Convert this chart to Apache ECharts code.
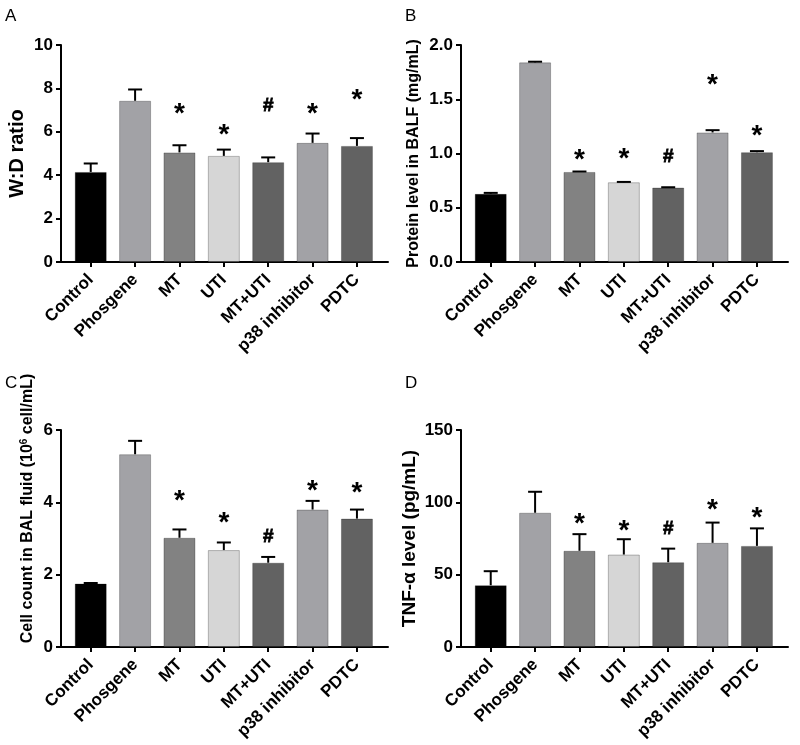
<!DOCTYPE html>
<html>
<head>
<meta charset="utf-8">
<script src="https://cdn.jsdelivr.net/npm/echarts@6/dist/echarts.min.js"></script>
<style>
html,body{margin:0;padding:0;background:#fff;}
#chart{width:800px;height:745px;}
</style>
</head>
<body>
<div id="chart"></div>
<script>
// ---- data ----
const categories = ['Control', 'Phosgene', 'MT', 'UTI', 'MT+UTI', 'p38 inhibitor', 'PDTC'];
const barColors = ['#000000', '#a2a2a6', '#828282', '#d6d6d6', '#626262', '#a2a2a6', '#626262'];
const marks = ['', '', '*', '*', '#', '*', '*'];

// Panel A: W:D ratio
const wdMean = [4.15, 7.43, 5.05, 4.89, 4.60, 5.49, 5.35];
const wdErr = [0.39, 0.52, 0.33, 0.29, 0.22, 0.43, 0.36];
const wdMarkY = [null, null, 7.12, 6.15, 7.18, 7.12, 7.77];
const wdTicks = [0, 2, 4, 6, 8, 10];

// Panel B: Protein level in BALF (mg/mL)
const protMean = [0.628, 1.840, 0.830, 0.735, 0.686, 1.194, 1.012];
const protErr = [0.009, 0.006, 0.004, 0.003, 0.003, 0.021, 0.010];
const protMarkY = [null, null, 1.00, 1.01, 0.97, 1.69, 1.22];
const protTicks = ['0.0', '0.5', '1.0', '1.5', '2.0'];

// Panel C: Cell count in BAL fluid (10^6 cell/mL)
const cellMean = [1.754, 5.33, 3.02, 2.68, 2.33, 3.80, 3.55];
const cellErr = [0.016, 0.37, 0.23, 0.21, 0.16, 0.24, 0.25];
const cellMarkY = [null, null, 4.23, 3.62, 3.05, 4.50, 4.45];
const cellTicks = [0, 2, 4, 6];

// Panel D: TNF-alpha level (pg/mL)
const tnfMean = [42.7, 92.8, 66.5, 63.9, 58.6, 72.0, 69.9];
const tnfErr = [9.7, 14.5, 11.5, 10.6, 9.4, 14.0, 12.1];
const tnfMarkY = [null, null, 90, 85, 82, 99, 93.5];
const tnfTicks = [0, 50, 100, 150];

// ---- chart ----
const FONT = 'Liberation Sans, Arial, sans-serif';
const panels = [
  {letter: 'A', mean: wdMean, err: wdErr, markY: wdMarkY, ticks: wdTicks, interval: 2, dec: 0,
   name: 'W:D ratio', nameSize: 20, nameGap: 34, left: 61, top: 45, lx: 0, ly: 3, namePad: 0},
  {letter: 'B', mean: protMean, err: protErr, markY: protMarkY, ticks: protTicks, interval: 0.5, dec: 1,
   name: 'Protein level in BALF (mg/mL)', nameSize: 16, nameGap: 39, left: 461, top: 45, lx: 400, ly: 3, namePad: 0},
  {letter: 'C', mean: cellMean, err: cellErr, markY: cellMarkY, ticks: cellTicks, interval: 2, dec: 0,
   name: '{a|Cell count in BAL fluid (10}{b|6}{a| cell/mL)}', nameSize: 16, nameGap: 24, left: 61, top: 430, lx: 0, ly: 370, namePad: 60},
  {letter: 'D', mean: tnfMean, err: tnfErr, markY: tnfMarkY, ticks: tnfTicks, interval: 50, dec: 0,
   name: 'TNF-α level (pg/mL)', nameSize: 19, nameGap: 42, left: 461, top: 430, lx: 400, ly: 370, namePad: 0}
];

const option = {
  backgroundColor: '#fff',
  animation: false,
  textStyle: {fontFamily: FONT},
  title: [], grid: [], xAxis: [], yAxis: [], series: []
};

panels.forEach((p, k) => {
  const tickNums = p.ticks.map(Number);
  option.title.push({
    text: p.letter,
    left: p.lx, top: p.ly,
    textStyle: {fontSize: 17, fontWeight: 'normal', color: '#000', fontFamily: FONT}
  });
  option.grid.push({left: p.left, top: p.top, width: 327, height: 217, containLabel: false});
  option.xAxis.push({
    type: 'value', gridIndex: k, min: -0.67, max: 6.7,
    splitLine: {show: false},
    axisLine: {show: true, onZero: false, lineStyle: {color: '#000', width: 2}},
    axisTick: {show: true, length: 5, lineStyle: {color: '#000', width: 2},
               customValues: categories.map((c, i) => i)},
    axisLabel: {show: true, rotate: 45, margin: 15, color: '#000', fontWeight: 'bold', fontSize: 17,
                fontFamily: FONT,
                customValues: categories.map((c, i) => i),
                formatter: v => categories[Math.round(v)] || ''}
  });
  option.yAxis.push({
    type: 'value', gridIndex: k, min: 0, max: tickNums[tickNums.length - 1], interval: p.interval,
    splitLine: {show: false},
    axisLine: {show: true, onZero: false, lineStyle: {color: '#000', width: 2}},
    axisTick: {show: true, length: 5, lineStyle: {color: '#000', width: 2}},
    axisLabel: {color: '#000', fontWeight: 'bold', fontSize: 17, margin: 8, fontFamily: FONT,
                formatter: v => v.toFixed(p.dec)},
    name: p.name, nameLocation: 'middle', nameGap: p.nameGap, nameRotate: 90,
    nameTextStyle: {color: '#000', fontWeight: 'bold', fontSize: p.nameSize, fontFamily: FONT,
                    padding: [0, 0, 0, p.namePad],
                    rich: {a: {fontSize: 16, fontWeight: 'bold', color: '#000', fontFamily: FONT},
                           b: {fontSize: 10, fontWeight: 'bold', color: '#000', fontFamily: FONT,
                               verticalAlign: 'top', padding: [0, 0, 8, 0]}}}
  });
  // bars
  option.series.push({
    type: 'bar', xAxisIndex: k, yAxisIndex: k, barWidth: 32,
    data: p.mean.map((v, i) => ({value: [i, v], itemStyle: {color: barColors[i]}})),
    itemStyle: {borderColor: 'rgba(0,0,0,0.25)', borderWidth: 1}
  });
  // error bars
  option.series.push({
    type: 'custom', xAxisIndex: k, yAxisIndex: k, z: 5,
    data: p.mean.map((v, i) => [i, v, v + p.err[i]]),
    renderItem: (params, api) => {
      const a = api.coord([api.value(0), api.value(1)]);
      const b = api.coord([api.value(0), api.value(2)]);
      const cap = 7;
      return {type: 'group', children: [
        {type: 'line', shape: {x1: a[0], y1: a[1], x2: b[0], y2: b[1]}, style: {stroke: '#000', lineWidth: 2}},
        {type: 'line', shape: {x1: b[0] - cap, y1: b[1], x2: b[0] + cap, y2: b[1]}, style: {stroke: '#000', lineWidth: 2}}
      ]};
    }
  });
  // significance marks
  option.series.push({
    type: 'custom', xAxisIndex: k, yAxisIndex: k, z: 6,
    data: p.markY.map((y, i) => y == null ? null : [i, y, i]).filter(d => d),
    renderItem: (params, api) => {
      const c = api.coord([api.value(0), api.value(1)]);
      const m = marks[api.value(2)];
      const isStar = m === '*';
      return {type: 'text', x: c[0], y: c[1] + (isStar ? 7 : 0),
              style: {text: m, fill: '#000', font: 'bold ' + (isStar ? 28 : 19) + 'px ' + FONT,
                      textAlign: 'center', textVerticalAlign: 'middle',
                      stroke: isStar ? null : '#000', lineWidth: isStar ? 0 : 0.8}};
    }
  });
});

const chart = echarts.init(document.getElementById('chart'), null, {renderer: 'canvas'});
chart.setOption(option);
</script>
</body>
</html>
